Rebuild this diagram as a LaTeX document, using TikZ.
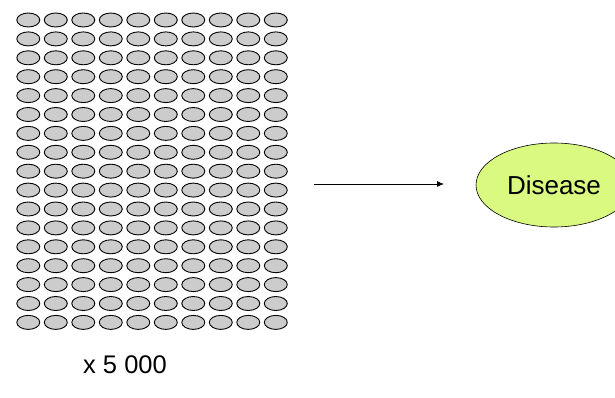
\documentclass[tikz,border=0pt]{standalone}
\usepackage{fontspec}
\setmainfont{Liberation Sans}
\usetikzlibrary{shapes.geometric,arrows.meta}
\definecolor{cellgray}{RGB}{204,204,204}
\definecolor{lime}{RGB}{217,249,128}
\tikzset{
  cell/.style={ellipse,draw=black,fill=cellgray,line width=0.9pt,minimum width=23pt,minimum height=14pt,inner sep=0pt},
  disease/.style={ellipse,draw=black,fill=lime,line width=0.6pt,minimum width=156pt,minimum height=84pt,inner sep=0pt,font=\fontsize{26}{30}\selectfont},
  label/.style={font=\fontsize{25.5}{30}\selectfont,inner sep=0pt},
  conn/.style={-{Latex[length=7pt,width=6pt]},line width=0.8pt}
}
\begin{document}
\begin{tikzpicture}[x=1pt,y=-1pt]
\useasboundingbox (0,0) rectangle (615,398);
\foreach \i in {0,...,9}{
  \foreach \j in {0,...,16}{
    \node[cell] (c-\i-\j) at ({28.3+27.5*\i},{20+18.9*\j}) {};
  }
}
\node[label] (count) at (125,365) {x 5 000};
\node[disease] (dis) at (554,185) {Disease};
\coordinate (as) at (314,184);
\coordinate (ae) at (444,184);
\draw[conn] (as) -- (ae);
\end{tikzpicture}
\end{document}
